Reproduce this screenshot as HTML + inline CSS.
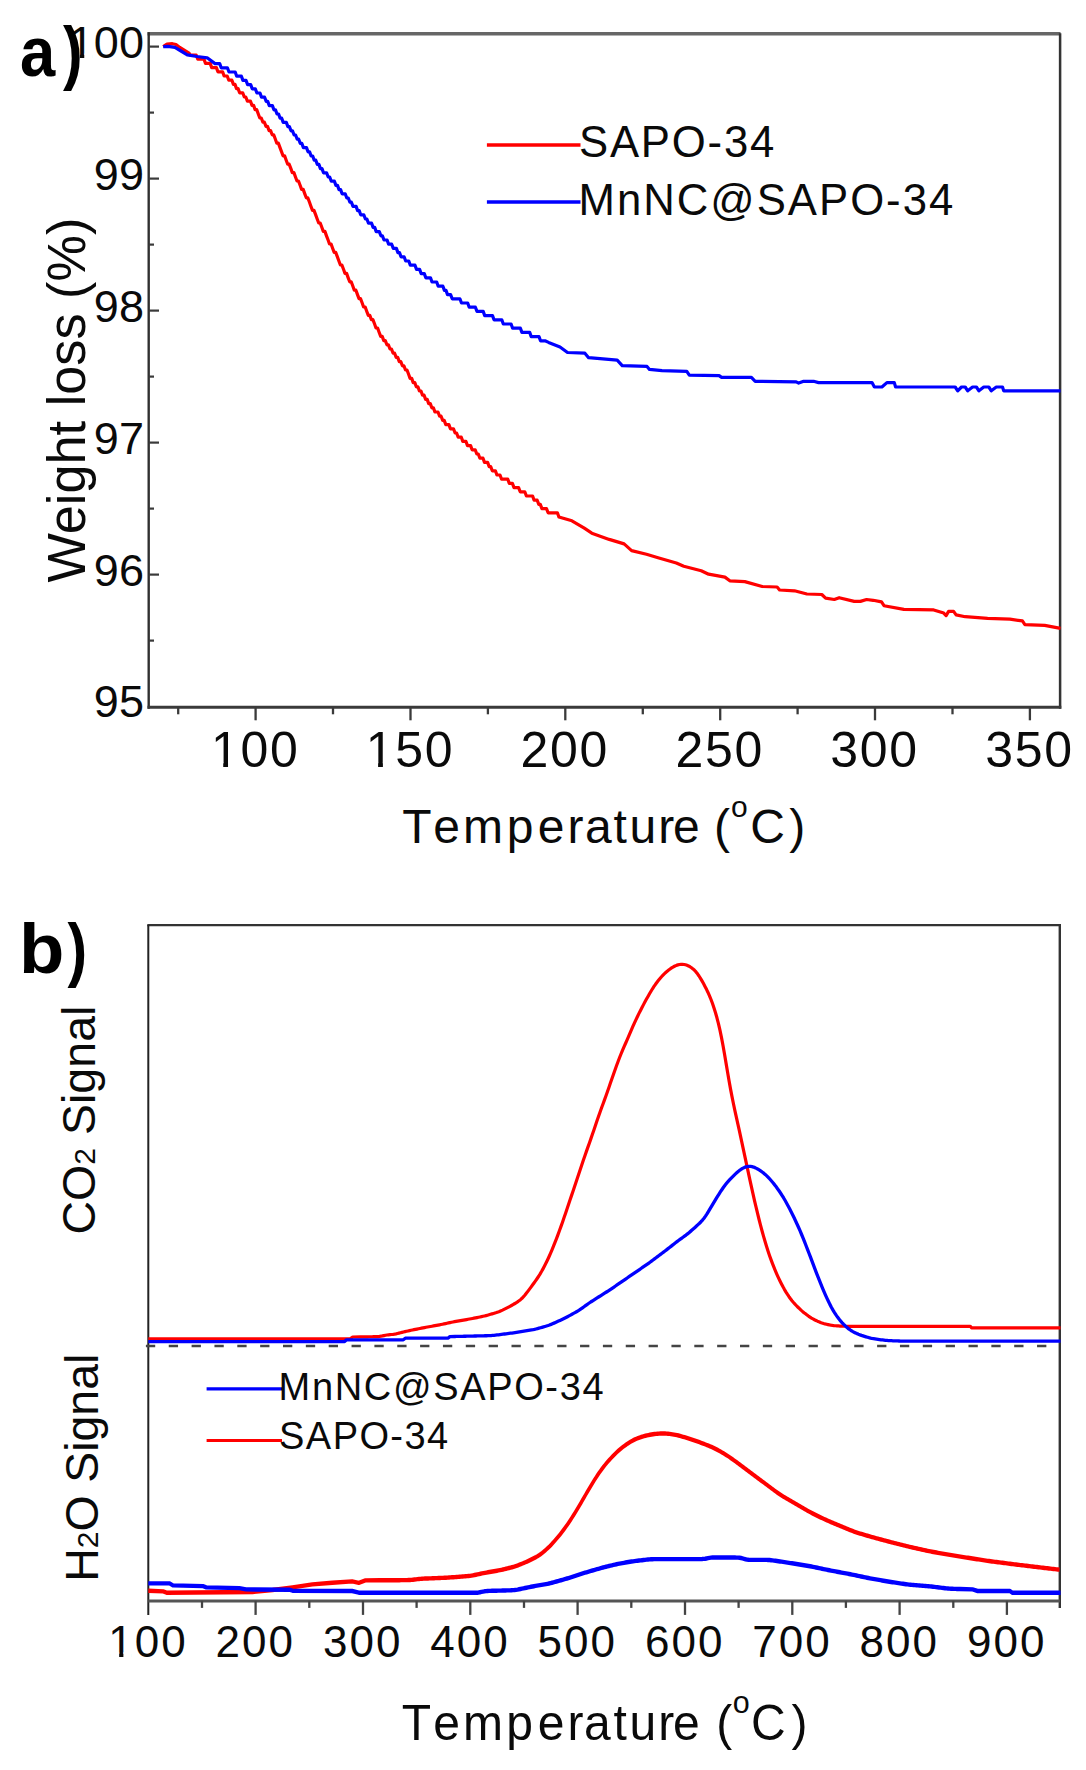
<!DOCTYPE html>
<html lang="en"><head><meta charset="utf-8"><title>TGA and TPO profiles</title>
<style>html,body{margin:0;padding:0;background:#fff}svg{display:block}text{font-family:"Liberation Sans",sans-serif;fill:#0a0a0a}.b{font-weight:bold;fill:#000}</style></head><body>
<svg width="1086" height="1770" viewBox="0 0 1086 1770">
<rect width="1086" height="1770" fill="#fff"/>
<g fill="none">
<line x1="147.5" y1="33.7" x2="1060.5" y2="33.7" stroke="#666" stroke-width="3.6"/>
<line x1="148.7" y1="32.2" x2="148.7" y2="708.8" stroke="#303030" stroke-width="2.4"/>
<line x1="1060.1" y1="33.2" x2="1060.1" y2="708.8" stroke="#333" stroke-width="2.5"/>
<line x1="147.5" y1="707.3" x2="1061.3" y2="707.3" stroke="#3a3a3a" stroke-width="3.0"/>
<line x1="148.7" y1="640.6" x2="154.0" y2="640.6" stroke="#3a3a3a" stroke-width="2.2"/>
<line x1="148.7" y1="574.6" x2="159.0" y2="574.6" stroke="#3a3a3a" stroke-width="2.2"/>
<line x1="148.7" y1="508.6" x2="154.0" y2="508.6" stroke="#3a3a3a" stroke-width="2.2"/>
<line x1="148.7" y1="442.6" x2="159.0" y2="442.6" stroke="#3a3a3a" stroke-width="2.2"/>
<line x1="148.7" y1="376.6" x2="154.0" y2="376.6" stroke="#3a3a3a" stroke-width="2.2"/>
<line x1="148.7" y1="310.6" x2="159.0" y2="310.6" stroke="#3a3a3a" stroke-width="2.2"/>
<line x1="148.7" y1="244.6" x2="154.0" y2="244.6" stroke="#3a3a3a" stroke-width="2.2"/>
<line x1="148.7" y1="178.6" x2="159.0" y2="178.6" stroke="#3a3a3a" stroke-width="2.2"/>
<line x1="148.7" y1="112.6" x2="154.0" y2="112.6" stroke="#3a3a3a" stroke-width="2.2"/>
<line x1="148.7" y1="46.6" x2="159.0" y2="46.6" stroke="#3a3a3a" stroke-width="2.2"/>
<line x1="178.2" y1="707.3" x2="178.2" y2="714.3" stroke="#3a3a3a" stroke-width="2.3"/>
<line x1="255.6" y1="707.3" x2="255.6" y2="720.3" stroke="#3a3a3a" stroke-width="2.3"/>
<line x1="333.0" y1="707.3" x2="333.0" y2="714.3" stroke="#3a3a3a" stroke-width="2.3"/>
<line x1="410.5" y1="707.3" x2="410.5" y2="720.3" stroke="#3a3a3a" stroke-width="2.3"/>
<line x1="487.9" y1="707.3" x2="487.9" y2="714.3" stroke="#3a3a3a" stroke-width="2.3"/>
<line x1="565.3" y1="707.3" x2="565.3" y2="720.3" stroke="#3a3a3a" stroke-width="2.3"/>
<line x1="642.8" y1="707.3" x2="642.8" y2="714.3" stroke="#3a3a3a" stroke-width="2.3"/>
<line x1="720.2" y1="707.3" x2="720.2" y2="720.3" stroke="#3a3a3a" stroke-width="2.3"/>
<line x1="797.6" y1="707.3" x2="797.6" y2="714.3" stroke="#3a3a3a" stroke-width="2.3"/>
<line x1="875.0" y1="707.3" x2="875.0" y2="720.3" stroke="#3a3a3a" stroke-width="2.3"/>
<line x1="952.5" y1="707.3" x2="952.5" y2="714.3" stroke="#3a3a3a" stroke-width="2.3"/>
<line x1="1029.9" y1="707.3" x2="1029.9" y2="720.3" stroke="#3a3a3a" stroke-width="2.3"/>
</g>
<polyline points="163.2,46.60 167.0,44.00 172.4,43.70 176.0,44.50 179.8,47.40 189.0,53.00 190.0,55.00 191.6,55.00 193.1,55.00 194.7,55.00 196.2,55.00 197.8,59.20 199.3,59.20 200.9,59.20 202.4,59.20 204.0,59.20 205.5,63.40 207.1,63.40 208.6,63.40 210.2,63.40 211.7,67.60 213.3,67.60 214.8,67.60 216.4,67.60 217.9,71.80 219.5,71.80 221.0,71.80 222.6,71.80 224.1,76.00 225.7,76.00 227.2,76.00 228.8,80.20 230.3,80.20 231.9,80.20 233.4,84.40 235.0,84.40 236.5,88.60 238.1,88.60 239.6,92.80 241.2,92.80 242.7,92.80 244.3,97.00 245.8,97.00 247.4,101.20 248.9,101.20 250.5,101.20 252.0,105.40 253.6,105.40 255.1,109.60 256.7,109.60 258.2,113.80 259.8,118.00 261.3,118.00 262.9,122.20 264.4,122.20 266.0,126.40 267.5,126.40 269.1,130.60 270.6,130.60 272.2,134.80 273.7,134.80 275.3,139.00 276.8,143.20 278.4,143.20 279.9,147.40 281.5,151.60 283.0,155.80 284.6,155.80 286.1,160.00 287.7,164.20 289.2,164.20 290.8,168.40 292.3,172.60 293.9,172.60 295.4,176.80 297.0,181.00 298.5,181.00 300.1,185.20 301.6,189.40 303.2,189.40 304.7,193.60 306.3,197.80 307.8,197.80 309.4,202.00 310.9,206.20 312.5,210.40 314.0,210.40 315.6,214.60 317.1,218.80 318.7,223.00 320.2,223.00 321.8,227.20 323.3,231.40 324.9,231.40 326.4,235.60 328.0,239.80 329.5,244.00 331.1,244.00 332.6,248.20 334.2,252.40 335.7,252.40 337.3,256.60 338.8,260.80 340.4,265.00 341.9,265.00 343.5,269.20 345.0,273.40 346.6,273.40 348.1,277.60 349.7,281.80 351.2,281.80 352.8,286.00 354.3,290.20 355.9,290.20 357.4,294.40 359.0,298.60 360.5,298.60 362.1,302.80 363.6,307.00 365.2,307.00 366.7,311.20 368.3,315.40 369.8,315.40 371.4,319.60 372.9,319.60 374.5,323.80 376.0,328.00 377.6,328.00 379.1,332.20 380.7,336.40 382.2,336.40 383.8,340.60 385.3,340.60 386.9,344.80 388.4,344.80 390.0,349.00 391.5,349.00 393.1,353.20 394.6,353.20 396.2,357.40 397.7,357.40 399.3,361.60 400.8,361.60 402.4,365.80 403.9,365.80 405.5,370.00 407.0,370.00 408.6,374.20 410.1,378.40 411.7,378.40 413.2,382.60 414.8,382.60 416.3,386.80 417.9,386.80 419.4,391.00 421.0,391.00 422.5,395.20 424.1,395.20 425.6,399.40 427.2,399.40 428.7,403.60 430.3,403.60 431.8,407.80 433.4,407.80 434.9,412.00 436.5,412.00 438.0,412.00 439.6,416.20 441.1,416.20 442.7,420.40 444.2,420.40 445.8,424.60 447.3,424.60 448.9,424.60 450.4,428.80 452.0,428.80 453.5,428.80 455.1,433.00 456.6,433.00 458.2,437.20 459.7,437.20 461.3,437.20 462.8,441.40 464.4,441.40 465.9,441.40 467.5,445.60 469.0,445.60 470.6,445.60 472.1,449.80 473.7,449.80 475.2,449.80 476.8,454.00 478.3,454.00 479.9,458.20 481.4,458.20 483.0,458.20 484.5,462.40 486.1,462.40 487.6,462.40 489.2,466.60 490.7,466.60 492.3,470.80 493.8,470.80 495.4,470.80 496.9,475.00 498.5,475.00 500.0,475.00 501.6,479.20 503.1,479.20 504.7,479.20 506.2,479.20 507.8,479.20 509.3,483.40 510.9,483.40 512.4,483.40 514.0,487.60 515.5,487.60 517.1,487.60 518.6,487.60 520.2,491.80 521.7,491.80 523.3,491.80 524.8,491.80 526.4,496.00 527.9,496.00 529.5,496.00 531.0,496.00 532.6,496.00 534.1,500.20 535.7,500.20 537.2,500.20 538.8,504.40 540.3,504.40 541.9,508.60 543.4,508.60 545.0,508.60 546.5,508.60 548.1,512.80 549.6,512.80 551.2,512.80 552.7,512.80 554.3,512.80 555.8,512.80 557.4,512.80 558.9,517.00 571.9,520.80 584.3,528.20 591.8,533.20 609.2,539.40 624.1,543.90 631.6,550.60 646.5,554.30 658.9,558.00 676.3,563.00 683.8,566.30 701.2,570.70 708.6,574.20 724.9,577.10 729.8,580.80 744.8,581.60 762.2,586.50 777.1,587.00 779.6,590.00 794.5,590.80 806.9,594.00 821.8,594.50 825.6,598.20 834.3,599.50 839.2,597.70 854.2,601.40 860.4,601.40 866.6,599.50 873.2,600.30 881.5,601.90 884.0,605.70 903.9,609.40 933.7,609.90 943.7,613.10 946.1,615.60 948.6,611.40 953.6,611.40 956.1,614.90 965.2,616.70 987.6,618.40 1009.9,619.20 1022.4,620.90 1024.9,624.60 1044.7,625.40 1060.5,628.40" fill="none" stroke="#ff0000" stroke-width="3.2" stroke-linejoin="round" stroke-linecap="butt"/>
<polyline points="163.2,46.60 168.0,46.40 174.9,47.40 181.0,51.00 187.3,54.90 197.0,56.50 207.2,57.80 215.0,63.60 216.6,63.60 218.1,63.60 219.7,63.60 221.2,67.80 222.8,67.80 224.3,67.80 225.9,67.80 227.4,67.80 229.0,72.00 230.5,72.00 232.1,72.00 233.6,72.00 235.2,72.00 236.7,76.20 238.3,76.20 239.8,76.20 241.4,76.20 242.9,80.40 244.5,80.40 246.0,80.40 247.6,84.60 249.1,84.60 250.7,84.60 252.2,88.80 253.8,88.80 255.3,88.80 256.9,93.00 258.4,93.00 260.0,93.00 261.5,97.20 263.1,97.20 264.6,97.20 266.2,101.40 267.7,101.40 269.3,105.60 270.8,105.60 272.4,105.60 273.9,109.80 275.5,109.80 277.0,114.00 278.6,114.00 280.1,118.20 281.7,118.20 283.2,122.40 284.8,122.40 286.3,122.40 287.9,126.60 289.4,126.60 291.0,130.80 292.5,130.80 294.1,135.00 295.6,135.00 297.2,139.20 298.7,139.20 300.3,143.40 301.8,143.40 303.4,147.60 304.9,147.60 306.5,147.60 308.0,151.80 309.6,151.80 311.1,156.00 312.7,156.00 314.2,160.20 315.8,160.20 317.3,164.40 318.9,164.40 320.4,168.60 322.0,168.60 323.5,172.80 325.1,172.80 326.6,172.80 328.2,177.00 329.7,177.00 331.3,181.20 332.8,181.20 334.4,181.20 335.9,185.40 337.5,185.40 339.0,189.60 340.6,189.60 342.1,193.80 343.7,193.80 345.2,193.80 346.8,198.00 348.3,198.00 349.9,202.20 351.4,202.20 353.0,206.40 354.5,206.40 356.1,206.40 357.6,210.60 359.2,210.60 360.7,214.80 362.3,214.80 363.8,214.80 365.4,219.00 366.9,219.00 368.5,223.20 370.0,223.20 371.6,223.20 373.1,227.40 374.7,227.40 376.2,231.60 377.8,231.60 379.3,231.60 380.9,235.80 382.4,235.80 384.0,240.00 385.5,240.00 387.1,240.00 388.6,244.20 390.2,244.20 391.7,244.20 393.3,248.40 394.8,248.40 396.4,248.40 397.9,252.60 399.5,252.60 401.0,256.80 402.6,256.80 404.1,256.80 405.7,261.00 407.2,261.00 408.8,261.00 410.3,265.20 411.9,265.20 413.4,265.20 415.0,265.20 416.5,269.40 418.1,269.40 419.6,269.40 421.2,273.60 422.7,273.60 424.3,273.60 425.8,277.80 427.4,277.80 428.9,277.80 430.5,277.80 432.0,282.00 433.6,282.00 435.1,282.00 436.7,282.00 438.2,286.20 439.8,286.20 441.3,286.20 442.9,286.20 444.4,290.40 446.0,290.40 447.5,294.60 449.1,294.60 450.6,294.60 452.2,298.80 453.7,298.80 455.3,298.80 456.8,298.80 458.4,298.80 459.9,298.80 461.5,303.00 463.0,303.00 464.6,303.00 466.1,303.00 467.7,303.00 469.2,307.20 470.8,307.20 472.3,307.20 473.9,307.20 475.4,307.20 477.0,311.40 478.5,311.40 480.1,311.40 481.6,311.40 483.2,311.40 484.7,315.60 486.3,315.60 487.8,315.60 489.4,315.60 490.9,315.60 492.5,315.60 494.0,319.80 495.6,319.80 497.1,319.80 498.7,319.80 500.2,319.80 501.8,319.80 503.3,324.00 504.9,324.00 506.4,324.00 508.0,324.00 509.5,324.00 511.1,324.00 512.6,328.20 514.2,328.20 515.7,328.20 517.3,328.20 518.8,328.20 520.4,328.20 521.9,332.40 523.5,332.40 525.0,332.40 526.6,332.40 528.1,332.40 529.7,332.40 531.2,336.60 532.8,336.60 534.3,336.60 535.9,336.60 537.4,336.60 539.0,336.60 540.5,340.80 542.1,340.80 543.6,340.80 545.0,340.80 548.6,342.40 560.0,347.00 567.5,352.50 584.9,353.20 588.6,357.70 617.2,360.20 622.2,365.70 647.0,366.40 649.5,369.40 662.0,370.60 686.8,371.40 689.3,375.10 719.1,375.60 721.6,377.40 751.4,377.40 755.2,381.30 796.2,381.80 798.7,383.10 803.7,381.30 813.6,381.30 818.6,382.60 872.0,382.60 874.4,387.00 881.9,387.00 886.9,382.60 894.3,382.60 895.6,387.00 955.2,387.00 957.7,390.80 961.5,387.00 965.2,387.00 967.7,390.80 972.6,387.00 976.4,387.00 978.9,390.80 983.8,387.00 988.8,387.00 991.3,390.80 996.3,387.00 1002.5,387.00 1003.7,390.80 1060.5,390.80" fill="none" stroke="#0000ff" stroke-width="3.2" stroke-linejoin="round" stroke-linecap="butt"/>
<text x="68.8 93.8 118.9" y="58.3" font-size="45">100</text>
<rect x="71.51" y="53.65" width="8.41" height="5.55" fill="#fff"/>
<rect x="84.25" y="53.65" width="8.10" height="5.55" fill="#fff"/>
<text x="93.8 118.9" y="190.3" font-size="45">99</text>
<text x="93.8 118.9" y="322.3" font-size="45">98</text>
<text x="93.8 118.9" y="454.3" font-size="45">97</text>
<text x="93.8 118.9" y="586.3" font-size="45">96</text>
<text x="93.8 118.9" y="716.6" font-size="45">95</text>
<text x="210.9 240.4 269.9" y="767.4" font-size="50">100</text>
<rect x="213.88" y="762.30" width="9.35" height="6.10" fill="#fff"/>
<rect x="228.03" y="762.30" width="9.00" height="6.10" fill="#fff"/>
<text x="365.7 395.3 424.8" y="767.4" font-size="50">150</text>
<rect x="368.74" y="762.30" width="9.35" height="6.10" fill="#fff"/>
<rect x="382.89" y="762.30" width="9.00" height="6.10" fill="#fff"/>
<text x="520.6 550.1 579.6" y="767.4" font-size="50">200</text>
<text x="675.5 705.0 734.5" y="767.4" font-size="50">250</text>
<text x="830.3 859.8 889.3" y="767.4" font-size="50">300</text>
<text x="985.2 1014.7 1044.2" y="767.4" font-size="50">350</text>
<text class="b" transform="translate(19.95,76.2) scale(0.892,1)" font-size="71">a</text>
<text class="b" transform="translate(62.9,76.2) scale(0.83,1)" font-size="71">)</text>
<text transform="translate(84.9,582.6) rotate(-90)" font-size="54" textLength="365" lengthAdjust="spacingAndGlyphs">Weight loss (%)</text>
<text x="402.3 433.3 463.1 506.7 537.7 567.6 584.9 613.6 629.4 658.2 673.1 699.8 713.9" y="843.4" font-size="48">Temperature (</text>
<text x="731.0" y="817.2" font-size="30">o</text>
<text x="750.3 789.2" y="843.4" font-size="48">C)</text>
<line x1="486.9" y1="145" x2="580.5" y2="145" stroke="#ff0000" stroke-width="3.4"/>
<line x1="486.9" y1="202" x2="580.5" y2="202" stroke="#0000ff" stroke-width="3.4"/>
<text x="579" y="157.2" font-size="43.7" textLength="195.3" lengthAdjust="spacing">SAPO-34</text>
<text x="578.5" y="214.9" font-size="43.7" textLength="374.8" lengthAdjust="spacing">MnNC@SAPO-34</text>
<g fill="none">
<line x1="147.3" y1="925.1" x2="1061.0" y2="925.1" stroke="#333" stroke-width="2.3"/>
<line x1="148.3" y1="925.1" x2="148.3" y2="1615.1" stroke="#222" stroke-width="2.0"/>
<line x1="1059.8" y1="925.1" x2="1059.8" y2="1607.9" stroke="#333" stroke-width="2.4"/>
<line x1="148.3" y1="1600.9" x2="1059.8" y2="1600.9" stroke="#555" stroke-width="3.0"/>
<line x1="202.0" y1="1600.9" x2="202.0" y2="1607.9" stroke="#444" stroke-width="2.3"/>
<line x1="255.6" y1="1600.9" x2="255.6" y2="1614.9" stroke="#444" stroke-width="2.3"/>
<line x1="309.3" y1="1600.9" x2="309.3" y2="1607.9" stroke="#444" stroke-width="2.3"/>
<line x1="363.0" y1="1600.9" x2="363.0" y2="1614.9" stroke="#444" stroke-width="2.3"/>
<line x1="416.6" y1="1600.9" x2="416.6" y2="1607.9" stroke="#444" stroke-width="2.3"/>
<line x1="470.3" y1="1600.9" x2="470.3" y2="1614.9" stroke="#444" stroke-width="2.3"/>
<line x1="524.0" y1="1600.9" x2="524.0" y2="1607.9" stroke="#444" stroke-width="2.3"/>
<line x1="577.6" y1="1600.9" x2="577.6" y2="1614.9" stroke="#444" stroke-width="2.3"/>
<line x1="631.3" y1="1600.9" x2="631.3" y2="1607.9" stroke="#444" stroke-width="2.3"/>
<line x1="685.0" y1="1600.9" x2="685.0" y2="1614.9" stroke="#444" stroke-width="2.3"/>
<line x1="738.6" y1="1600.9" x2="738.6" y2="1607.9" stroke="#444" stroke-width="2.3"/>
<line x1="792.3" y1="1600.9" x2="792.3" y2="1614.9" stroke="#444" stroke-width="2.3"/>
<line x1="845.9" y1="1600.9" x2="845.9" y2="1607.9" stroke="#444" stroke-width="2.3"/>
<line x1="899.6" y1="1600.9" x2="899.6" y2="1614.9" stroke="#444" stroke-width="2.3"/>
<line x1="953.3" y1="1600.9" x2="953.3" y2="1607.9" stroke="#444" stroke-width="2.3"/>
<line x1="1006.9" y1="1600.9" x2="1006.9" y2="1614.9" stroke="#444" stroke-width="2.3"/>
<line x1="145.9" y1="1346" x2="1050" y2="1346" stroke="#444" stroke-width="2.4" stroke-dasharray="9.3 13.55"/>
</g>
<polyline points="148.3,1338.90 300.0,1338.90 350.6,1338.60 352.7,1337.00 360.0,1336.90 361.5,1336.88 363.0,1336.85 364.5,1336.83 366.0,1336.81 367.5,1336.79 369.0,1336.77 370.5,1336.75 372.0,1336.73 373.5,1336.70 375.0,1336.68 376.5,1336.63 378.0,1336.56 379.5,1336.42 381.0,1336.20 382.5,1335.90 384.0,1335.57 385.5,1335.25 387.0,1334.99 388.5,1334.79 390.0,1334.62 391.5,1334.47 393.0,1334.30 394.5,1334.09 396.0,1333.83 397.5,1333.51 399.0,1333.16 400.5,1332.78 402.0,1332.39 403.5,1332.01 405.0,1331.64 406.5,1331.29 408.0,1330.95 409.5,1330.63 411.0,1330.31 412.5,1330.00 414.0,1329.69 415.5,1329.37 417.0,1329.06 418.5,1328.75 420.0,1328.45 421.5,1328.15 423.0,1327.86 424.5,1327.58 426.0,1327.30 427.5,1327.02 429.0,1326.74 430.5,1326.47 432.0,1326.20 433.5,1325.92 435.0,1325.65 436.5,1325.37 438.0,1325.09 439.5,1324.81 441.0,1324.51 442.5,1324.21 444.0,1323.90 445.5,1323.57 447.0,1323.25 448.5,1322.92 450.0,1322.59 451.5,1322.26 453.0,1321.95 454.5,1321.64 456.0,1321.35 457.5,1321.08 459.0,1320.82 460.5,1320.56 462.0,1320.31 463.5,1320.06 465.0,1319.80 466.5,1319.55 468.0,1319.29 469.5,1319.02 471.0,1318.74 472.5,1318.45 474.0,1318.16 475.5,1317.86 477.0,1317.56 478.5,1317.26 480.0,1316.95 481.5,1316.64 483.0,1316.31 484.5,1315.96 486.0,1315.58 487.5,1315.17 489.0,1314.75 490.5,1314.31 492.0,1313.87 493.5,1313.43 495.0,1312.97 496.5,1312.50 498.0,1311.99 499.5,1311.43 501.0,1310.80 502.5,1310.12 504.0,1309.39 505.5,1308.65 507.0,1307.88 508.5,1307.11 510.0,1306.32 511.5,1305.49 513.0,1304.64 514.5,1303.75 516.0,1302.83 517.5,1301.86 519.0,1300.81 520.5,1299.64 522.0,1298.29 523.5,1296.72 525.0,1294.97 526.5,1293.09 528.0,1291.14 529.5,1289.14 531.0,1287.11 532.5,1285.07 534.0,1283.01 535.5,1280.92 537.0,1278.76 538.5,1276.50 540.0,1274.10 541.5,1271.56 543.0,1268.87 544.5,1266.04 546.0,1263.08 547.5,1259.97 549.0,1256.71 550.5,1253.31 552.0,1249.80 553.5,1246.18 555.0,1242.44 556.5,1238.58 558.0,1234.61 559.5,1230.55 561.0,1226.40 562.5,1222.16 564.0,1217.84 565.5,1213.45 567.0,1209.02 568.5,1204.56 570.0,1200.10 571.5,1195.62 573.0,1191.14 574.5,1186.65 576.0,1182.16 577.5,1177.65 579.0,1173.14 580.5,1168.64 582.0,1164.17 583.5,1159.75 585.0,1155.41 586.5,1151.14 588.0,1146.90 589.5,1142.67 591.0,1138.39 592.5,1134.05 594.0,1129.65 595.5,1125.22 597.0,1120.81 598.5,1116.46 600.0,1112.21 601.5,1108.06 603.0,1103.97 604.5,1099.88 606.0,1095.74 607.5,1091.52 609.0,1087.21 610.5,1082.85 612.0,1078.48 613.5,1074.15 615.0,1069.91 616.5,1065.76 618.0,1061.72 619.5,1057.79 621.0,1054.01 622.5,1050.38 624.0,1046.89 625.5,1043.49 627.0,1040.10 628.5,1036.68 630.0,1033.19 631.5,1029.68 633.0,1026.20 634.5,1022.81 636.0,1019.56 637.5,1016.44 639.0,1013.40 640.5,1010.42 642.0,1007.49 643.5,1004.62 645.0,1001.82 646.5,999.09 648.0,996.41 649.5,993.79 651.0,991.23 652.5,988.78 654.0,986.46 655.5,984.30 657.0,982.28 658.5,980.36 660.0,978.52 661.5,976.76 663.0,975.11 664.5,973.60 666.0,972.22 667.5,970.96 669.0,969.79 670.5,968.69 672.0,967.68 673.5,966.78 675.0,966.00 676.5,965.37 678.0,964.86 679.5,964.51 681.0,964.31 682.5,964.30 684.0,964.47 685.5,964.80 687.0,965.28 688.5,965.92 690.0,966.74 691.5,967.74 693.0,968.91 694.5,970.29 696.0,971.93 697.5,973.84 699.0,976.01 700.5,978.38 702.0,980.91 703.5,983.57 705.0,986.38 706.5,989.33 708.0,992.45 709.5,995.81 711.0,999.49 712.5,1003.54 714.0,1007.96 715.5,1012.76 717.0,1018.03 718.5,1023.86 720.0,1030.37 721.5,1037.60 723.0,1045.53 724.5,1054.02 726.0,1062.88 727.5,1071.81 729.0,1080.54 730.5,1088.85 732.0,1096.67 733.5,1104.03 735.0,1111.06 736.5,1117.89 738.0,1124.66 739.5,1131.46 741.0,1138.33 742.5,1145.29 744.0,1152.29 745.5,1159.32 747.0,1166.34 748.5,1173.34 750.0,1180.29 751.5,1187.17 753.0,1193.94 754.5,1200.55 756.0,1206.97 757.5,1213.20 759.0,1219.25 760.5,1225.10 762.0,1230.73 763.5,1236.12 765.0,1241.28 766.5,1246.23 768.0,1250.96 769.5,1255.44 771.0,1259.66 772.5,1263.65 774.0,1267.44 775.5,1271.07 777.0,1274.53 778.5,1277.83 780.0,1280.98 781.5,1283.99 783.0,1286.85 784.5,1289.56 786.0,1292.09 787.5,1294.47 789.0,1296.70 790.5,1298.80 792.0,1300.74 793.5,1302.53 795.0,1304.19 796.5,1305.75 798.0,1307.25 799.5,1308.70 801.0,1310.09 802.5,1311.40 804.0,1312.65 805.5,1313.83 807.0,1314.97 808.5,1316.06 810.0,1317.10 811.5,1318.06 813.0,1318.94 814.5,1319.74 816.0,1320.47 817.5,1321.16 819.0,1321.81 820.5,1322.41 822.0,1322.95 823.5,1323.42 825.0,1323.85 826.5,1324.23 828.0,1324.58 829.5,1324.90 831.0,1325.18 832.5,1325.40 834.0,1325.58 835.5,1325.72 837.0,1325.83 838.5,1325.93 840.0,1326.03 841.5,1326.11 843.0,1326.18 844.5,1326.23 846.0,1326.27 847.5,1326.29 849.0,1326.30 850.5,1326.30 852.0,1326.30 853.5,1326.30 855.0,1326.30 856.5,1326.30 858.0,1326.30 859.5,1326.30 861.0,1326.30 862.5,1326.30 864.0,1326.30 865.5,1326.30 867.0,1326.30 868.5,1326.30 870.0,1326.30 871.5,1326.30 873.0,1326.30 874.5,1326.30 876.0,1326.30 877.5,1326.30 879.0,1326.30 880.5,1326.30 882.0,1326.30 883.5,1326.30 885.0,1326.30 886.5,1326.30 888.0,1326.30 889.5,1326.30 891.0,1326.30 892.5,1326.30 894.0,1326.30 895.5,1326.30 897.0,1326.30 898.5,1326.30 900.0,1326.30 901.5,1326.30 903.0,1326.30 904.5,1326.30 906.0,1326.30 907.5,1326.30 909.0,1326.30 910.5,1326.30 912.0,1326.30 913.5,1326.30 915.0,1326.30 916.5,1326.30 918.0,1326.30 919.5,1326.30 921.0,1326.30 922.5,1326.30 924.0,1326.30 925.5,1326.30 927.0,1326.30 928.5,1326.30 930.0,1326.30 931.5,1326.30 933.0,1326.30 934.5,1326.30 936.0,1326.30 937.5,1326.30 939.0,1326.30 940.5,1326.30 942.0,1326.30 943.5,1326.30 945.0,1326.30 946.5,1326.30 948.0,1326.30 949.5,1326.30 951.0,1326.30 952.5,1326.30 954.0,1326.30 955.5,1326.30 957.0,1326.30 958.5,1326.30 960.0,1326.30 970.3,1326.30 971.5,1327.80 1060.5,1327.80" fill="none" stroke="#ff0000" stroke-width="3.2" stroke-linejoin="round"/>
<polyline points="148.3,1341.60 344.6,1341.60 346.6,1339.80 403.3,1339.80 405.3,1338.20 447.9,1338.20 449.9,1336.60 455.0,1336.48 456.5,1336.44 458.0,1336.41 459.5,1336.37 461.0,1336.34 462.5,1336.30 464.0,1336.27 465.5,1336.23 467.0,1336.20 468.5,1336.16 470.0,1336.12 471.5,1336.09 473.0,1336.05 474.5,1336.02 476.0,1335.98 477.5,1335.95 479.0,1335.91 480.5,1335.88 482.0,1335.84 483.5,1335.81 485.0,1335.77 486.5,1335.73 488.0,1335.69 489.5,1335.63 491.0,1335.56 492.5,1335.45 494.0,1335.31 495.5,1335.15 497.0,1334.97 498.5,1334.78 500.0,1334.59 501.5,1334.40 503.0,1334.20 504.5,1334.01 506.0,1333.81 507.5,1333.62 509.0,1333.42 510.5,1333.23 512.0,1333.03 513.5,1332.82 515.0,1332.60 516.5,1332.38 518.0,1332.15 519.5,1331.91 521.0,1331.67 522.5,1331.43 524.0,1331.19 525.5,1330.95 527.0,1330.71 528.5,1330.46 530.0,1330.21 531.5,1329.95 533.0,1329.67 534.5,1329.35 536.0,1328.99 537.5,1328.60 539.0,1328.19 540.5,1327.77 542.0,1327.33 543.5,1326.90 545.0,1326.46 546.5,1326.00 548.0,1325.51 549.5,1324.97 551.0,1324.39 552.5,1323.77 554.0,1323.12 555.5,1322.45 557.0,1321.78 558.5,1321.10 560.0,1320.42 561.5,1319.73 563.0,1319.02 564.5,1318.28 566.0,1317.51 567.5,1316.72 569.0,1315.91 570.5,1315.09 572.0,1314.26 573.5,1313.43 575.0,1312.59 576.5,1311.73 578.0,1310.83 579.5,1309.88 581.0,1308.87 582.5,1307.82 584.0,1306.74 585.5,1305.65 587.0,1304.57 588.5,1303.52 590.0,1302.49 591.5,1301.50 593.0,1300.53 594.5,1299.58 596.0,1298.63 597.5,1297.69 599.0,1296.74 600.5,1295.80 602.0,1294.86 603.5,1293.92 605.0,1292.97 606.5,1292.01 608.0,1291.05 609.5,1290.06 611.0,1289.06 612.5,1288.05 614.0,1287.02 615.5,1285.99 617.0,1284.96 618.5,1283.93 620.0,1282.90 621.5,1281.86 623.0,1280.83 624.5,1279.80 626.0,1278.77 627.5,1277.74 629.0,1276.71 630.5,1275.68 632.0,1274.65 633.5,1273.63 635.0,1272.60 636.5,1271.57 638.0,1270.55 639.5,1269.52 641.0,1268.50 642.5,1267.47 644.0,1266.44 645.5,1265.41 647.0,1264.37 648.5,1263.30 650.0,1262.22 651.5,1261.12 653.0,1260.01 654.5,1258.88 656.0,1257.76 657.5,1256.63 659.0,1255.50 660.5,1254.37 662.0,1253.24 663.5,1252.11 665.0,1250.98 666.5,1249.84 668.0,1248.68 669.5,1247.52 671.0,1246.34 672.5,1245.16 674.0,1243.97 675.5,1242.79 677.0,1241.63 678.5,1240.50 680.0,1239.40 681.5,1238.33 683.0,1237.27 684.5,1236.19 686.0,1235.07 687.5,1233.89 689.0,1232.66 690.5,1231.38 692.0,1230.08 693.5,1228.76 695.0,1227.41 696.5,1226.05 698.0,1224.66 699.5,1223.23 701.0,1221.72 702.5,1220.07 704.0,1218.22 705.5,1216.15 707.0,1213.87 708.5,1211.45 710.0,1208.95 711.5,1206.42 713.0,1203.88 714.5,1201.34 716.0,1198.83 717.5,1196.38 719.0,1194.01 720.5,1191.70 722.0,1189.46 723.5,1187.30 725.0,1185.24 726.5,1183.33 728.0,1181.55 729.5,1179.91 731.0,1178.34 732.5,1176.83 734.0,1175.35 735.5,1173.90 737.0,1172.51 738.5,1171.21 740.0,1170.04 741.5,1169.01 743.0,1168.13 744.5,1167.42 746.0,1166.88 747.5,1166.54 749.0,1166.39 750.5,1166.44 752.0,1166.67 753.5,1167.08 755.0,1167.65 756.5,1168.37 758.0,1169.22 759.5,1170.16 761.0,1171.16 762.5,1172.23 764.0,1173.39 765.5,1174.67 767.0,1176.08 768.5,1177.61 770.0,1179.25 771.5,1180.97 773.0,1182.76 774.5,1184.64 776.0,1186.61 777.5,1188.66 779.0,1190.79 780.5,1192.99 782.0,1195.29 783.5,1197.72 785.0,1200.28 786.5,1202.95 788.0,1205.71 789.5,1208.55 791.0,1211.46 792.5,1214.46 794.0,1217.55 795.5,1220.71 797.0,1223.95 798.5,1227.27 800.0,1230.70 801.5,1234.24 803.0,1237.91 804.5,1241.66 806.0,1245.49 807.5,1249.35 809.0,1253.26 810.5,1257.21 812.0,1261.18 813.5,1265.17 815.0,1269.13 816.5,1273.05 818.0,1276.91 819.5,1280.70 821.0,1284.43 822.5,1288.07 824.0,1291.62 825.5,1295.05 827.0,1298.37 828.5,1301.56 830.0,1304.61 831.5,1307.47 833.0,1310.14 834.5,1312.62 836.0,1314.93 837.5,1317.08 839.0,1319.06 840.5,1320.88 842.0,1322.56 843.5,1324.13 845.0,1325.63 846.5,1327.03 848.0,1328.33 849.5,1329.49 851.0,1330.50 852.5,1331.38 854.0,1332.18 855.5,1332.92 857.0,1333.62 858.5,1334.27 860.0,1334.86 861.5,1335.40 863.0,1335.90 864.5,1336.38 866.0,1336.84 867.5,1337.28 869.0,1337.70 870.5,1338.08 872.0,1338.42 873.5,1338.70 875.0,1338.95 876.5,1339.17 878.0,1339.38 879.5,1339.58 881.0,1339.78 882.5,1339.97 884.0,1340.15 885.5,1340.31 887.0,1340.44 888.5,1340.55 890.0,1340.64 891.5,1340.72 893.0,1340.79 894.5,1340.86 896.0,1340.92 897.5,1340.97 899.0,1341.02 900.5,1341.06 902.0,1341.08 903.5,1341.09 905.0,1341.10 906.5,1341.10 908.0,1341.10 909.5,1341.10 911.0,1341.10 912.5,1341.10 914.0,1341.10 915.5,1341.10 917.0,1341.10 918.5,1341.10 920.0,1341.10 921.5,1341.10 923.0,1341.10 924.5,1341.10 926.0,1341.10 927.5,1341.10 929.0,1341.10 930.5,1341.10 932.0,1341.10 933.5,1341.10 935.0,1341.10 936.5,1341.10 938.0,1341.10 939.5,1341.10 941.0,1341.10 942.5,1341.10 944.0,1341.10 945.5,1341.10 947.0,1341.10 948.5,1341.10 950.0,1341.10 951.5,1341.10 953.0,1341.10 954.5,1341.10 956.0,1341.10 957.5,1341.10 959.0,1341.10 960.5,1341.10 962.0,1341.10 963.5,1341.10 965.0,1341.10 966.5,1341.10 968.0,1341.10 969.5,1341.10 971.0,1341.10 972.5,1341.10 974.0,1341.10 975.5,1341.10 977.0,1341.10 978.5,1341.10 980.0,1341.10 981.5,1341.10 983.0,1341.10 984.5,1341.10 986.0,1341.10 987.5,1341.10 989.0,1341.10 990.5,1341.10 992.0,1341.10 993.5,1341.10 995.0,1341.10 996.5,1341.10 998.0,1341.10 999.5,1341.10 1060.5,1341.10" fill="none" stroke="#0000ff" stroke-width="3.3" stroke-linejoin="round"/>
<g transform="translate(0,1500.0) scale(1,1.330)">
<polyline points="148.3,68.20 163.2,68.72 166.5,69.70 252.7,69.17 272.6,67.67 292.5,65.71 312.4,63.46 332.3,62.26 352.2,61.20 358.8,62.26 365.4,60.45 380.0,60.38 381.5,60.37 383.0,60.37 384.5,60.36 386.0,60.35 387.5,60.34 389.0,60.34 390.5,60.33 392.0,60.32 393.5,60.31 395.0,60.31 396.5,60.30 398.0,60.29 399.5,60.29 401.0,60.28 402.5,60.27 404.0,60.26 405.5,60.25 407.0,60.23 408.5,60.20 410.0,60.14 411.5,60.05 413.0,59.94 414.5,59.80 416.0,59.64 417.5,59.50 419.0,59.37 420.5,59.26 422.0,59.18 423.5,59.12 425.0,59.07 426.5,59.02 428.0,58.98 429.5,58.94 431.0,58.89 432.5,58.85 434.0,58.81 435.5,58.77 437.0,58.72 438.5,58.68 440.0,58.63 441.5,58.59 443.0,58.54 444.5,58.48 446.0,58.42 447.5,58.35 449.0,58.27 450.5,58.20 452.0,58.12 453.5,58.04 455.0,57.95 456.5,57.87 458.0,57.79 459.5,57.71 461.0,57.63 462.5,57.55 464.0,57.46 465.5,57.37 467.0,57.27 468.5,57.14 470.0,57.00 471.5,56.82 473.0,56.62 474.5,56.40 476.0,56.17 477.5,55.93 479.0,55.69 480.5,55.45 482.0,55.22 483.5,54.99 485.0,54.77 486.5,54.56 488.0,54.36 489.5,54.16 491.0,53.97 492.5,53.78 494.0,53.58 495.5,53.39 497.0,53.19 498.5,52.97 500.0,52.74 501.5,52.50 503.0,52.24 504.5,51.98 506.0,51.70 507.5,51.43 509.0,51.14 510.5,50.85 512.0,50.55 513.5,50.22 515.0,49.86 516.5,49.48 518.0,49.07 519.5,48.63 521.0,48.19 522.5,47.73 524.0,47.26 525.5,46.78 527.0,46.28 528.5,45.77 530.0,45.23 531.5,44.68 533.0,44.12 534.5,43.54 536.0,42.93 537.5,42.28 539.0,41.57 540.5,40.79 542.0,39.94 543.5,39.03 545.0,38.07 546.5,37.06 548.0,36.01 549.5,34.92 551.0,33.76 552.5,32.56 554.0,31.32 555.5,30.04 557.0,28.73 558.5,27.37 560.0,25.97 561.5,24.52 563.0,23.03 564.5,21.50 566.0,19.93 567.5,18.33 569.0,16.68 570.5,14.98 572.0,13.24 573.5,11.45 575.0,9.63 576.5,7.79 578.0,5.92 579.5,4.02 581.0,2.10 582.5,0.16 584.0,-1.80 585.5,-3.75 587.0,-5.70 588.5,-7.63 590.0,-9.54 591.5,-11.41 593.0,-13.26 594.5,-15.08 596.0,-16.86 597.5,-18.60 599.0,-20.27 600.5,-21.86 602.0,-23.39 603.5,-24.86 605.0,-26.29 606.5,-27.67 608.0,-29.00 609.5,-30.29 611.0,-31.52 612.5,-32.71 614.0,-33.86 615.5,-34.98 617.0,-36.05 618.5,-37.09 620.0,-38.07 621.5,-39.01 623.0,-39.90 624.5,-40.75 626.0,-41.57 627.5,-42.35 629.0,-43.08 630.5,-43.76 632.0,-44.40 633.5,-44.99 635.0,-45.55 636.5,-46.07 638.0,-46.55 639.5,-46.98 641.0,-47.36 642.5,-47.70 644.0,-48.01 645.5,-48.29 647.0,-48.56 648.5,-48.81 650.0,-49.04 651.5,-49.25 653.0,-49.43 654.5,-49.58 656.0,-49.71 657.5,-49.82 659.0,-49.92 660.5,-50.00 662.0,-50.05 663.5,-50.06 665.0,-50.03 666.5,-49.95 668.0,-49.84 669.5,-49.71 671.0,-49.56 672.5,-49.39 674.0,-49.20 675.5,-48.99 677.0,-48.75 678.5,-48.48 680.0,-48.18 681.5,-47.86 683.0,-47.53 684.5,-47.20 686.0,-46.85 687.5,-46.50 689.0,-46.14 690.5,-45.77 692.0,-45.39 693.5,-45.01 695.0,-44.62 696.5,-44.23 698.0,-43.83 699.5,-43.43 701.0,-43.02 702.5,-42.60 704.0,-42.17 705.5,-41.73 707.0,-41.29 708.5,-40.84 710.0,-40.38 711.5,-39.90 713.0,-39.39 714.5,-38.85 716.0,-38.28 717.5,-37.68 719.0,-37.06 720.5,-36.42 722.0,-35.78 723.5,-35.11 725.0,-34.43 726.5,-33.72 728.0,-32.98 729.5,-32.22 731.0,-31.44 732.5,-30.65 734.0,-29.84 735.5,-29.02 737.0,-28.19 738.5,-27.35 740.0,-26.51 741.5,-25.67 743.0,-24.82 744.5,-23.97 746.0,-23.13 747.5,-22.28 749.0,-21.43 750.5,-20.59 752.0,-19.74 753.5,-18.90 755.0,-18.06 756.5,-17.22 758.0,-16.37 759.5,-15.53 761.0,-14.69 762.5,-13.85 764.0,-13.00 765.5,-12.16 767.0,-11.31 768.5,-10.46 770.0,-9.62 771.5,-8.77 773.0,-7.93 774.5,-7.09 776.0,-6.26 777.5,-5.45 779.0,-4.67 780.5,-3.92 782.0,-3.19 783.5,-2.50 785.0,-1.82 786.5,-1.15 788.0,-0.49 789.5,0.17 791.0,0.83 792.5,1.48 794.0,2.14 795.5,2.80 797.0,3.46 798.5,4.12 800.0,4.78 801.5,5.43 803.0,6.09 804.5,6.74 806.0,7.39 807.5,8.03 809.0,8.65 810.5,9.26 812.0,9.85 813.5,10.43 815.0,11.00 816.5,11.56 818.0,12.12 819.5,12.67 821.0,13.22 822.5,13.77 824.0,14.29 825.5,14.81 827.0,15.31 828.5,15.80 830.0,16.29 831.5,16.77 833.0,17.24 834.5,17.72 836.0,18.20 837.5,18.67 839.0,19.14 840.5,19.61 842.0,20.08 843.5,20.55 845.0,21.02 846.5,21.48 848.0,21.95 849.5,22.41 851.0,22.86 852.5,23.29 854.0,23.71 855.5,24.11 857.0,24.49 858.5,24.85 860.0,25.20 861.5,25.54 863.0,25.88 864.5,26.22 866.0,26.56 867.5,26.89 869.0,27.22 870.5,27.54 872.0,27.85 873.5,28.17 875.0,28.47 876.5,28.78 878.0,29.09 879.5,29.39 881.0,29.70 882.5,30.01 884.0,30.31 885.5,30.61 887.0,30.92 888.5,31.21 890.0,31.51 891.5,31.80 893.0,32.09 894.5,32.37 896.0,32.66 897.5,32.94 899.0,33.22 900.5,33.51 902.0,33.79 903.5,34.07 905.0,34.35 906.5,34.63 908.0,34.91 909.5,35.18 911.0,35.44 912.5,35.70 914.0,35.96 915.5,36.22 917.0,36.47 918.5,36.73 920.0,36.98 921.5,37.24 923.0,37.49 924.5,37.74 926.0,37.99 927.5,38.23 929.0,38.46 930.5,38.68 932.0,38.90 933.5,39.10 935.0,39.30 936.5,39.51 938.0,39.71 939.5,39.90 941.0,40.10 942.5,40.30 944.0,40.50 945.5,40.70 947.0,40.89 948.5,41.09 950.0,41.27 951.5,41.46 953.0,41.65 954.5,41.83 956.0,42.01 957.5,42.19 959.0,42.37 960.5,42.55 962.0,42.74 963.5,42.92 965.0,43.10 966.5,43.28 968.0,43.46 969.5,43.63 971.0,43.81 972.5,43.98 974.0,44.16 975.5,44.33 977.0,44.51 978.5,44.68 980.0,44.86 981.5,45.03 983.0,45.20 984.5,45.38 986.0,45.55 987.5,45.72 989.0,45.88 990.5,46.04 992.0,46.20 993.5,46.35 995.0,46.50 996.5,46.64 998.0,46.79 999.5,46.93 1001.0,47.08 1002.5,47.22 1004.0,47.37 1005.5,47.51 1007.0,47.66 1008.5,47.80 1010.0,47.95 1011.5,48.09 1013.0,48.23 1014.5,48.38 1016.0,48.52 1017.5,48.65 1019.0,48.79 1020.5,48.93 1022.0,49.06 1023.5,49.20 1025.0,49.34 1026.5,49.47 1028.0,49.61 1029.5,49.74 1031.0,49.88 1032.5,50.02 1034.0,50.15 1035.5,50.29 1037.0,50.42 1038.5,50.56 1040.0,50.69 1041.5,50.82 1043.0,50.95 1044.5,51.09 1046.0,51.22 1047.5,51.35 1049.0,51.48 1050.5,51.61 1052.0,51.74 1053.5,51.87 1055.0,52.00 1056.5,52.13 1058.0,52.26 1059.5,52.39" fill="none" stroke="#ff0000" stroke-width="3.3" stroke-linejoin="round"/>
<polyline points="148.3,62.71 169.8,62.71 173.1,64.21 203.0,64.74 206.3,65.71 239.4,66.24 246.1,67.22 289.2,67.44 292.5,68.20 352.2,68.42 358.8,69.70 478.1,69.70 480.0,69.34 481.5,69.08 483.0,68.84 484.5,68.65 486.0,68.51 487.5,68.41 489.0,68.35 490.5,68.31 492.0,68.28 493.5,68.25 495.0,68.22 496.5,68.19 498.0,68.16 499.5,68.13 501.0,68.10 502.5,68.07 504.0,68.04 505.5,68.01 507.0,67.97 508.5,67.94 510.0,67.91 511.5,67.86 513.0,67.79 514.5,67.68 516.0,67.53 517.5,67.35 519.0,67.13 520.5,66.90 522.0,66.67 523.5,66.43 525.0,66.19 526.5,65.95 528.0,65.71 529.5,65.48 531.0,65.25 532.5,65.03 534.0,64.82 535.5,64.62 537.0,64.42 538.5,64.22 540.0,64.03 541.5,63.83 543.0,63.64 544.5,63.44 546.0,63.23 547.5,63.02 549.0,62.78 550.5,62.52 552.0,62.23 553.5,61.93 555.0,61.62 556.5,61.29 558.0,60.97 559.5,60.65 561.0,60.33 562.5,60.00 564.0,59.68 565.5,59.35 567.0,59.02 568.5,58.69 570.0,58.34 571.5,57.99 573.0,57.63 574.5,57.26 576.0,56.89 577.5,56.53 579.0,56.16 580.5,55.79 582.0,55.42 583.5,55.05 585.0,54.69 586.5,54.34 588.0,53.99 589.5,53.66 591.0,53.33 592.5,53.00 594.0,52.68 595.5,52.35 597.0,52.03 598.5,51.71 600.0,51.38 601.5,51.07 603.0,50.76 604.5,50.46 606.0,50.17 607.5,49.89 609.0,49.62 610.5,49.36 612.0,49.09 613.5,48.83 615.0,48.57 616.5,48.31 618.0,48.07 619.5,47.83 621.0,47.62 622.5,47.41 624.0,47.22 625.5,47.03 627.0,46.84 628.5,46.65 630.0,46.46 631.5,46.28 633.0,46.11 634.5,45.95 636.0,45.79 637.5,45.65 639.0,45.52 640.5,45.39 642.0,45.26 643.5,45.13 645.0,45.00 646.5,44.87 648.0,44.75 649.5,44.65 651.0,44.56 652.5,44.50 654.0,44.47 655.5,44.45 657.0,44.44 658.5,44.44 660.0,44.44 661.5,44.44 663.0,44.44 664.5,44.44 666.0,44.44 667.5,44.44 669.0,44.44 670.5,44.44 672.0,44.44 673.5,44.44 675.0,44.44 676.5,44.44 678.0,44.44 679.5,44.44 681.0,44.44 682.5,44.44 684.0,44.44 685.5,44.44 687.0,44.44 688.5,44.44 690.0,44.44 691.5,44.44 693.0,44.44 694.5,44.44 696.0,44.44 697.5,44.44 699.0,44.43 700.5,44.42 702.0,44.39 703.5,44.31 705.0,44.17 706.5,43.96 708.0,43.72 709.5,43.50 711.0,43.34 712.5,43.24 714.0,43.20 715.5,43.19 717.0,43.20 718.5,43.20 720.0,43.21 721.5,43.22 723.0,43.22 724.5,43.23 726.0,43.24 727.5,43.24 729.0,43.25 730.5,43.26 732.0,43.26 733.5,43.27 735.0,43.28 736.5,43.30 738.0,43.34 739.5,43.44 741.0,43.62 742.5,43.90 744.0,44.23 745.5,44.55 747.0,44.79 748.5,44.93 750.0,45.00 751.5,45.03 753.0,45.04 754.5,45.04 756.0,45.04 757.5,45.04 759.0,45.04 760.5,45.04 762.0,45.04 763.5,45.04 765.0,45.05 766.5,45.06 768.0,45.10 769.5,45.16 771.0,45.26 772.5,45.39 774.0,45.54 775.5,45.70 777.0,45.87 778.5,46.04 780.0,46.21 781.5,46.38 783.0,46.55 784.5,46.72 786.0,46.89 787.5,47.06 789.0,47.23 790.5,47.41 792.0,47.59 793.5,47.77 795.0,47.95 796.5,48.13 798.0,48.31 799.5,48.49 801.0,48.67 802.5,48.85 804.0,49.04 805.5,49.22 807.0,49.41 808.5,49.61 810.0,49.82 811.5,50.03 813.0,50.26 814.5,50.49 816.0,50.73 817.5,50.97 819.0,51.21 820.5,51.44 822.0,51.68 823.5,51.92 825.0,52.16 826.5,52.39 828.0,52.62 829.5,52.85 831.0,53.07 832.5,53.29 834.0,53.50 835.5,53.71 837.0,53.92 838.5,54.13 840.0,54.34 841.5,54.55 843.0,54.76 844.5,54.97 846.0,55.18 847.5,55.40 849.0,55.62 850.5,55.84 852.0,56.07 853.5,56.31 855.0,56.54 856.5,56.78 858.0,57.02 859.5,57.26 861.0,57.50 862.5,57.73 864.0,57.97 865.5,58.21 867.0,58.44 868.5,58.66 870.0,58.88 871.5,59.09 873.0,59.30 874.5,59.50 876.0,59.70 877.5,59.89 879.0,60.09 880.5,60.29 882.0,60.49 883.5,60.69 885.0,60.88 886.5,61.08 888.0,61.27 889.5,61.45 891.0,61.63 892.5,61.81 894.0,61.98 895.5,62.15 897.0,62.32 898.5,62.49 900.0,62.66 901.5,62.83 903.0,63.00 904.5,63.17 906.0,63.33 907.5,63.48 909.0,63.62 910.5,63.74 912.0,63.84 913.5,63.93 915.0,64.02 916.5,64.11 918.0,64.19 919.5,64.28 921.0,64.36 922.5,64.45 924.0,64.54 925.5,64.63 927.0,64.72 928.5,64.83 930.0,64.94 931.5,65.07 933.0,65.21 934.5,65.35 936.0,65.49 937.5,65.63 939.0,65.77 940.5,65.91 942.0,66.05 943.5,66.19 945.0,66.33 946.5,66.45 948.0,66.56 949.5,66.65 951.0,66.71 952.5,66.76 954.0,66.80 955.5,66.84 957.0,66.87 958.5,66.91 960.0,66.94 972.6,67.22 977.6,68.42 1009.9,68.42 1012.4,69.70 1060.5,69.70" fill="none" stroke="#0000ff" stroke-width="3.3" stroke-linejoin="round"/>
</g>
<text x="108.3 134.8 161.2" y="1656.9" font-size="44">100</text>
<rect x="110.93" y="1652.34" width="8.23" height="5.44" fill="#fff"/>
<rect x="123.38" y="1652.34" width="7.92" height="5.44" fill="#fff"/>
<text x="215.6 242.1 268.6" y="1656.9" font-size="44">200</text>
<text x="323.0 349.4 375.9" y="1656.9" font-size="44">300</text>
<text x="430.3 456.8 483.2" y="1656.9" font-size="44">400</text>
<text x="537.6 564.1 590.6" y="1656.9" font-size="44">500</text>
<text x="644.9 671.4 697.9" y="1656.9" font-size="44">600</text>
<text x="752.3 778.7 805.2" y="1656.9" font-size="44">700</text>
<text x="859.6 886.1 912.5" y="1656.9" font-size="44">800</text>
<text x="966.9 993.4 1019.9" y="1656.9" font-size="44">900</text>
<text class="b" transform="translate(19.0,973.3) scale(1.046,1)" font-size="71">b</text>
<text class="b" transform="translate(67.4,973.3) scale(0.83,1)" font-size="71">)</text>
<text transform="translate(95.0,1234.6) rotate(-90)" font-size="46.5" textLength="229" lengthAdjust="spacing">CO<tspan font-size="30">2</tspan> Signal</text>
<text transform="translate(97.6,1581.7) rotate(-90)" font-size="46.5" textLength="228" lengthAdjust="spacing">H<tspan font-size="30">2</tspan>O Signal</text>
<g transform="translate(0,1740.2) scale(1,1.05)">
<text x="401.8 433.3 463.1 506.2 537.7 567.6 584.1 613.6 629.6 658.2 673.1 699.8 716.3" y="0.0" font-size="48">Temperature (</text>
<text x="732.7" y="-26.2" font-size="30.5">o</text>
<text x="751.0 791.6" y="0.0" font-size="48">C)</text>
</g>
<line x1="206.6" y1="1388.8" x2="282" y2="1388.8" stroke="#0000ff" stroke-width="3.2"/>
<line x1="206.6" y1="1440.5" x2="282" y2="1440.5" stroke="#ff0000" stroke-width="3.2"/>
<text x="278.6" y="1399.5" font-size="38" textLength="325" lengthAdjust="spacing">MnNC@SAPO-34</text>
<text x="279.1" y="1449.2" font-size="38" textLength="169" lengthAdjust="spacing">SAPO-34</text>
</svg></body></html>
